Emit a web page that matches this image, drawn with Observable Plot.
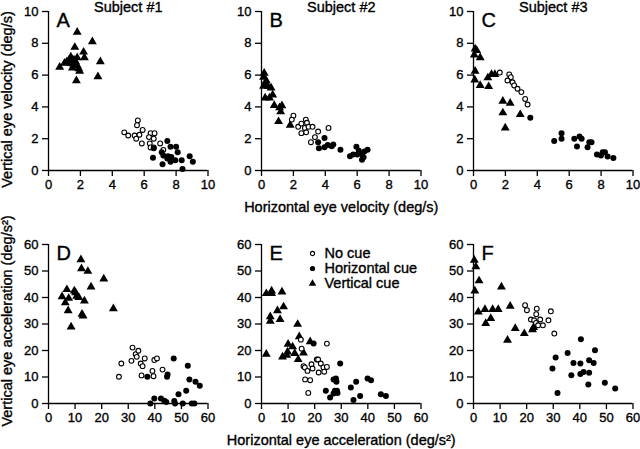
<!DOCTYPE html>
<html>
<head>
<meta charset="utf-8">
<script src="https://cdn.jsdelivr.net/npm/d3@7"></script>
<script src="https://cdn.jsdelivr.net/npm/@observablehq/plot@0.6"></script>
<style>
  html, body { margin: 0; padding: 0; background: #fff; }
  #chart { position: relative; width: 640px; height: 449px; background: #fff; overflow: hidden; }
  #chart svg { position: absolute; overflow: visible; }
  #chart svg text { stroke: black; stroke-width: 0.35px; }
</style>
</head>
<body>
<div id="chart"></div>
<script>
// ---------- data ----------
const velTicks = [0, 2, 4, 6, 8, 10];
const accTicks = [0, 10, 20, 30, 40, 50, 60];
const subjects = ["Subject #1", "Subject #2", "Subject #3"];
const panelLetters = ["A", "B", "C", "D", "E", "F"];
const legendLabels = ["No cue", "Horizontal cue", "Vertical cue"];
const xLabelVel = "Horizontal eye velocity (deg/s)";
const yLabelVel = "Vertical eye velocity (deg/s)";
const xLabelAcc = "Horizontal eye acceleration (deg/s²)";
const yLabelAcc = "Vertical eye acceleration (deg/s²)";

// Panel A (subject 1, velocity)
const A_vertical = [[0.7,6.5],[1.8,8.7],[2.75,8.1],[1.65,7.75],[2.2,7.45],[2.25,7.1],[1.4,7.15],[1.8,7.1],[1.15,6.85],[1.6,6.95],[1.35,6.75],[1.0,6.75],[1.8,6.6],[1.9,6.4],[1.95,6.25],[1.5,6.45],[3.25,6.85],[3.1,5.9],[1.75,5.65],[1.3,6.95],[1.55,6.7],[1.7,6.85]];
const A_none = [[5.6,3.15],[5.55,2.85],[5.9,2.55],[4.75,2.4],[5.0,2.2],[5.4,2.2],[5.5,2.0],[5.7,2.25],[6.4,2.35],[6.65,2.35],[6.3,2.1],[6.6,2.0],[6.35,1.7],[5.85,1.7],[6.4,1.45],[6.6,1.45],[7.0,1.7],[7.2,1.3]];
const A_horizontal = [[7.45,1.85],[7.1,1.15],[7.65,1.5],[8.0,1.5],[8.1,1.15],[6.55,0.8],[7.2,0.95],[7.5,0.9],[7.7,0.85],[7.45,0.75],[7.95,0.65],[8.35,0.65],[8.85,0.9],[9.05,0.55],[7.15,0.4],[8.4,0.1],[7.65,0.55],[6.6,1.4]];

// Panel B (subject 2, velocity)
const B_vertical = [[0.17,6.12],[0.13,5.87],[0.3,5.65],[0.13,5.3],[0.42,5.28],[0.6,5.2],[0.27,5.4],[0.23,4.57],[0.5,4.57],[0.7,4.75],[0.8,4.1],[1.13,3.95],[1.28,4.08],[1.2,3.7],[1.07,3.08],[1.8,2.85]];
const B_none = [[2.0,3.45],[1.9,3.2],[2.3,2.75],[2.5,2.95],[2.78,3.2],[2.85,3.0],[2.72,2.68],[2.5,2.35],[2.8,2.4],[2.95,2.75],[3.2,2.75],[3.55,2.45],[4.2,2.68],[3.1,1.78],[3.35,2.1]];
const B_horizontal = [[3.95,2.05],[3.55,1.78],[3.6,1.4],[3.95,1.47],[4.15,1.6],[4.4,1.53],[4.5,1.63],[4.95,1.3],[5.55,0.9],[5.75,1.0],[5.95,1.5],[6.1,1.25],[6.3,1.0],[6.45,1.2],[6.65,1.3],[6.3,0.67],[6.4,0.84],[6.0,1.0]];

// Panel C (subject 3, velocity)
const C_vertical = [[0.1,7.65],[0.2,7.55],[0.05,7.27],[0.42,7.1],[0.1,6.25],[0.08,5.7],[0.42,5.35],[0.95,5.28],[0.9,5.83],[1.13,6.04],[1.34,6.04],[1.84,4.36],[2.3,4.23],[1.84,3.63],[1.99,2.68],[2.93,3.52]];
const C_none = [[1.65,6.16],[2.24,6.04],[2.34,5.87],[2.13,5.66],[2.45,5.55],[2.55,5.35],[2.76,5.14],[3.0,4.93],[3.24,4.5],[3.39,4.15]];
const C_horizontal = [[3.56,3.31],[5.06,1.85],[5.52,2.35],[5.52,1.99],[6.32,1.99],[6.49,1.51],[6.65,2.14],[6.78,1.99],[7.15,1.47],[7.26,1.78],[7.4,1.78],[7.74,1.0],[7.99,0.94],[8.1,1.15],[8.24,1.15],[8.41,0.88],[8.77,0.78]];

// Panel D (subject 1, acceleration)
const D_vertical = [[12.2,54.3],[12.4,50.9],[14.8,49.9],[20.8,47.0],[16.0,44.0],[24.4,35.8],[6.9,43.0],[9.7,42.5],[10.2,41.8],[5.1,40.3],[7.6,39.7],[10.6,40.5],[11.4,40.0],[13.5,38.7],[6.3,38.0],[7.4,35.0],[12.6,33.7],[13.0,33.0],[8.5,28.9]];
const D_none = [[26.5,10.1],[27.4,15.1],[31.6,21.1],[31.2,16.1],[32.8,18.6],[33.2,17.6],[33.8,19.9],[34.7,15.1],[35.4,14.1],[36.2,17.0],[35.0,10.6],[39.1,12.3],[39.8,16.4],[40.8,17.0],[39.5,10.3],[42.9,12.8]];
const D_horizontal = [[37.2,10.1],[44.6,10.1],[44.8,10.9],[47.1,17.0],[52.4,14.2],[53.0,9.1],[55.3,8.2],[56.9,6.7],[48.9,3.5],[51.8,4.8],[38.3,0],[39.8,1.9],[42.3,1.9],[43.6,1.0],[44.3,0.6],[47.3,0.9],[47.6,0],[50.5,0],[53.9,0],[54.9,0]];

// Panel E (subject 2, acceleration)
const E_vertical = [[1.8,41.5],[3.8,42.5],[3.8,41.5],[7.7,42.1],[3.3,32.8],[3.3,31.1],[6.0,35.0],[8.3,36.5],[7.0,31.7],[13.6,29.9],[1.8,18.6],[7.9,17.6],[10.0,22.4],[9.8,19.5],[9.5,18.2],[11.7,21.4],[12.5,18.9],[14.2,25.2],[13.8,16.6],[15.8,19.1],[18.3,23.3]];
const E_none = [[24.6,22.6],[14.8,24.1],[15.1,20.7],[15.8,14.1],[16.3,13.6],[17.3,12.3],[18.8,14.8],[19.2,13.2],[20.8,16.6],[21.3,16.6],[22.3,15.1],[23.3,13.6],[21.5,11.7],[23.6,12.0],[24.6,13.8],[16.4,9.1],[18.3,8.8],[17.6,4.0]];
const E_horizontal = [[19.6,22.6],[29.6,15.1],[24.2,4.8],[25.8,2.3],[27.1,9.1],[28.0,9.4],[28.2,8.2],[27.6,4.8],[28.4,4.8],[28.6,4.0],[27.1,3.8],[33.6,6.0],[35.6,8.2],[34.6,1.3],[37.1,2.8],[39.9,9.4],[41.2,8.8],[44.9,3.5],[46.8,2.8]];

// Panel F (subject 3, acceleration)
const F_vertical = [[0.3,54.1],[0.9,51.6],[0.5,42.5],[2.1,46.3],[1.8,34.6],[4.3,35.5],[4.6,30.2],[6.5,32.1],[7.2,35.5],[9.3,35.5],[10.5,44.0],[13.8,36.7],[12.8,23.9],[15.7,28.3],[19.1,26.4],[22.2,27.9],[22.6,28.7]];
const F_none = [[19.4,37.1],[20.1,35.2],[23.8,35.8],[23.6,33.7],[21.6,31.7],[22.8,31.4],[23.5,30.4],[24.3,29.5],[25.1,31.7],[26.1,29.5],[28.2,31.4],[29.1,34.8],[30.4,26.4]];
const F_horizontal = [[29.7,13.2],[30.9,17.4],[31.6,4.0],[35.4,19.1],[37.6,15.3],[36.8,10.7],[40.2,15.1],[40.4,24.2],[40.2,11.1],[41.4,11.9],[43.5,16.3],[43.5,11.6],[45.2,15.3],[45.7,20.1],[43.2,7.2],[49.4,7.8],[53.3,5.7]];

// ---------- layout ----------
const FONT = "'Liberation Sans', Arial, Helvetica, sans-serif";
const rows = [
  {top: 0,   height: 222, mt: 11, mb: 52, dom: [0, 10], ticks: velTicks, xl: xLabelVel, yl: yLabelVel, ylDy: 8.5},
  {top: 222, height: 227, mt: 22, mb: 46, dom: [0, 60], ticks: accTicks, xl: xLabelAcc, yl: yLabelAcc, ylDy: -3}
];
const cols = [{left: 0, width: 213}, {left: 213, width: 212}, {left: 425, width: 212}];
const panelData = [
  [A_none, A_horizontal, A_vertical], [B_none, B_horizontal, B_vertical], [C_none, C_horizontal, C_vertical],
  [D_none, D_horizontal, D_vertical], [E_none, E_horizontal, E_vertical], [F_none, F_horizontal, F_vertical]
];

const chart = document.getElementById("chart");
const X = d => d[0], Y = d => d[1];

rows.forEach((row, ri) => {
  cols.forEach((col, ci) => {
    const idx = ri * 3 + ci;
    const [none, horiz, vert] = panelData[idx];
    const marks = [
      Plot.ruleX([0], {stroke: "black", strokeWidth: 1.3}),
      Plot.ruleY([0], {stroke: "black", strokeWidth: 1.3}),
      Plot.axisX({ticks: row.ticks, tickSize: 6, tickPadding: 3, label: null, fontSize: 13, stroke: "black", fill: "black", strokeWidth: 1.3}),
      Plot.axisY({ticks: row.ticks, tickSize: 6, tickPadding: 4, label: null, fontSize: 13, stroke: "black", fill: "black", strokeWidth: 1.3}),
      Plot.dot(vert, {x: X, y: Y, symbol: "triangle", r: 3.3, fill: "black", stroke: "none"}),
      Plot.dot(none, {x: X, y: Y, r: 2.4, fill: "white", stroke: "black", strokeWidth: 1.1}),
      Plot.dot(horiz, {x: X, y: Y, r: 3.0, fill: "black", stroke: "none"}),
      Plot.text([panelLetters[idx]], {frameAnchor: "top-left", textAnchor: "start", lineAnchor: "top", dx: 8, dy: 1, fontSize: 20, fill: "black"})
    ];
    if (ri === 0) {
      marks.push(Plot.text([subjects[ci]], {frameAnchor: "top", textAnchor: "middle", lineAnchor: "bottom", dy: 0, fontSize: 14.5, fill: "black"}));
    }
    if (ci === 1) {
      marks.push(Plot.text([row.xl], {frameAnchor: "bottom", textAnchor: "middle", lineAnchor: "middle", dy: 37, fontSize: 14.5, fill: "black"}));
    }
    if (ci === 0) {
      marks.push(Plot.text([row.yl], {frameAnchor: "left", rotate: -90, textAnchor: "middle", lineAnchor: "middle", dx: -41, dy: row.ylDy, fontSize: 14.5, fill: "black"}));
    }
    if (idx === 4) {
      // legend (No cue / Horizontal cue / Vertical cue)
      marks.push(
        Plot.dot([legendLabels[0]], {frameAnchor: "top-left", dx: 51, dy: 9, r: 2.1, fill: "white", stroke: "black", strokeWidth: 1.1}),
        Plot.dot([legendLabels[1]], {frameAnchor: "top-left", dx: 51, dy: 24, r: 2.6, fill: "black"}),
        Plot.dot([legendLabels[2]], {frameAnchor: "top-left", dx: 51, dy: 39, r: 2.8, symbol: "triangle", fill: "black"}),
        Plot.text([legendLabels[0]], {frameAnchor: "top-left", textAnchor: "start", lineAnchor: "middle", dx: 63, dy: 9, fontSize: 14.5, fill: "black"}),
        Plot.text([legendLabels[1]], {frameAnchor: "top-left", textAnchor: "start", lineAnchor: "middle", dx: 63, dy: 24, fontSize: 14.5, fill: "black"}),
        Plot.text([legendLabels[2]], {frameAnchor: "top-left", textAnchor: "start", lineAnchor: "middle", dx: 63, dy: 39, fontSize: 14.5, fill: "black"})
      );
    }
    const svg = Plot.plot({
      width: col.width,
      height: row.height,
      marginLeft: 48,
      marginRight: col.width - 48 - 159.5,
      marginTop: row.mt,
      marginBottom: row.mb,
      x: {domain: row.dom},
      y: {domain: row.dom},
      style: {fontFamily: FONT, fontSize: "13px", color: "black", background: "transparent", overflow: "visible"},
      marks
    });
    svg.style.left = col.left + "px";
    svg.style.top = row.top + "px";
    chart.appendChild(svg);
  });
});
</script>
</body>
</html>
